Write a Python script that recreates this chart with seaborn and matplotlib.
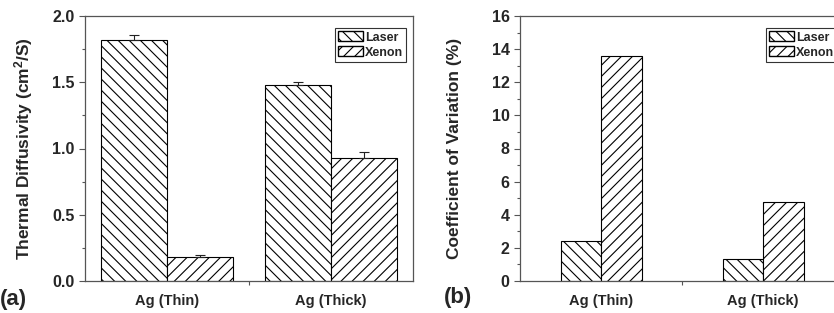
import pandas as pd
import matplotlib
matplotlib.use("Agg")
import matplotlib.pyplot as plt
import seaborn as sns
from matplotlib.patches import Patch
from matplotlib.ticker import MultipleLocator, FixedLocator

# data
samples = ["Ag (Thin)", "Ag (Thick)"]
sources = ["Laser", "Xenon"]
diffusivity = {"Laser": [1.82, 1.48], "Xenon": [0.18, 0.93]}
diff_err = {"Laser": [0.04, 0.02], "Xenon": [0.02, 0.04]}
cov = {"Laser": [2.4, 1.3], "Xenon": [13.6, 4.75]}
hatches = {"Laser": "\\\\\\", "Xenon": "///"}

df_a = pd.DataFrame([(s, src, diffusivity[src][i]) for src in sources
                     for i, s in enumerate(samples)], columns=["Sample", "Source", "Value"])
df_b = pd.DataFrame([(s, src, cov[src][i]) for src in sources
                     for i, s in enumerate(samples)], columns=["Sample", "Source", "Value"])

sns.set_style("ticks")
plt.rcParams["font.family"] = ["Liberation Sans", "DejaVu Sans"]
plt.rcParams["font.weight"] = "bold"
plt.rcParams["mathtext.default"] = "regular"
plt.rcParams["hatch.linewidth"] = 0.8
plt.rcParams["hatch.color"] = "black"

fig = plt.figure(figsize=(8.34, 3.13), dpi=100)
ax1 = fig.add_axes([85 / 834, 32 / 313, 328 / 834, 265 / 313])
ax2 = fig.add_axes([520 / 834, 32 / 313, 324 / 834, 265 / 313])


def draw(ax, df, width):
    sns.barplot(data=df, x="Sample", y="Value", hue="Source", hue_order=sources,
                order=samples, palette=["white", "white"], edgecolor="black",
                linewidth=0.8, width=width, errorbar=None, legend=False, ax=ax)
    for cont, src in zip(ax.containers, sources):
        for bar in cont:
            bar.set_hatch(hatches[src])
    ax.set_xlim(-0.5, 1.5)
    ax.set_xlabel("")
    ax.xaxis.set_minor_locator(FixedLocator([0.5]))
    ax.tick_params(axis="x", which="major", length=0, labelsize=10.5, pad=9)
    ax.tick_params(axis="x", which="minor", length=3, width=0.8, color="#555555")
    ax.tick_params(axis="y", which="major", length=4.5, width=0.8, labelsize=11.5,
                   color="#555555", pad=3)
    ax.tick_params(axis="y", which="minor", length=2.5, width=0.8, color="#555555")
    for sp in ax.spines.values():
        sp.set_color("#555555")
        sp.set_linewidth(0.9)
    handles = [Patch(facecolor="white", edgecolor="black", hatch=hatches[s], label=s)
               for s in sources]
    leg = ax.legend(handles=handles, loc="upper right", bbox_to_anchor=(0.98, 0.955),
                    fancybox=False, framealpha=1, edgecolor="#333333",
                    prop={"weight": "bold", "size": 9}, handlelength=2.0,
                    handleheight=0.9, handletextpad=0.2, labelspacing=0.2,
                    borderpad=0.25, borderaxespad=0)
    leg.get_frame().set_linewidth(0.8)


draw(ax1, df_a, 0.8)
# upper-only error bars on panel (a)
for cont, src in zip(ax1.containers, sources):
    for bar, val, err in zip(cont, diffusivity[src], diff_err[src]):
        xc = bar.get_x() + bar.get_width() / 2
        ax1.errorbar(xc, val, yerr=[[0], [err]], fmt="none", ecolor="#222222",
                     elinewidth=0.8, capsize=3.5, capthick=0.8)
ax1.set_ylim(0, 2.0)
ax1.set_yticks([0, 0.5, 1.0, 1.5, 2.0], ["0.0", "0.5", "1.0", "1.5", "2.0"])
ax1.yaxis.set_minor_locator(MultipleLocator(0.25))
ax1.set_ylabel("Thermal Diffusivity (cm$^2$/S)", fontsize=12.5, fontweight="bold")
ax1.yaxis.set_label_coords(-0.152, 0.5)

draw(ax2, df_b, 0.5)
ax2.set_ylim(0, 16)
ax2.yaxis.set_major_locator(MultipleLocator(2))
ax2.yaxis.set_minor_locator(MultipleLocator(1))
ax2.set_ylabel("Coefficient of Variation (%)", fontsize=12.5, fontweight="bold")
ax2.yaxis.set_label_coords(-0.179, 0.5)

for ax in (ax1, ax2):
    for lab in ax.get_xticklabels() + ax.get_yticklabels():
        lab.set_fontweight("bold")

fig.text(0 / 834, 1 - 299 / 313, "(a)", fontsize=16, fontweight="bold", va="center", ha="left")
fig.text(444 / 834, 1 - 298 / 313, "(b)", fontsize=16, fontweight="bold", va="center", ha="left")

fig.savefig("out.png", dpi=100)
